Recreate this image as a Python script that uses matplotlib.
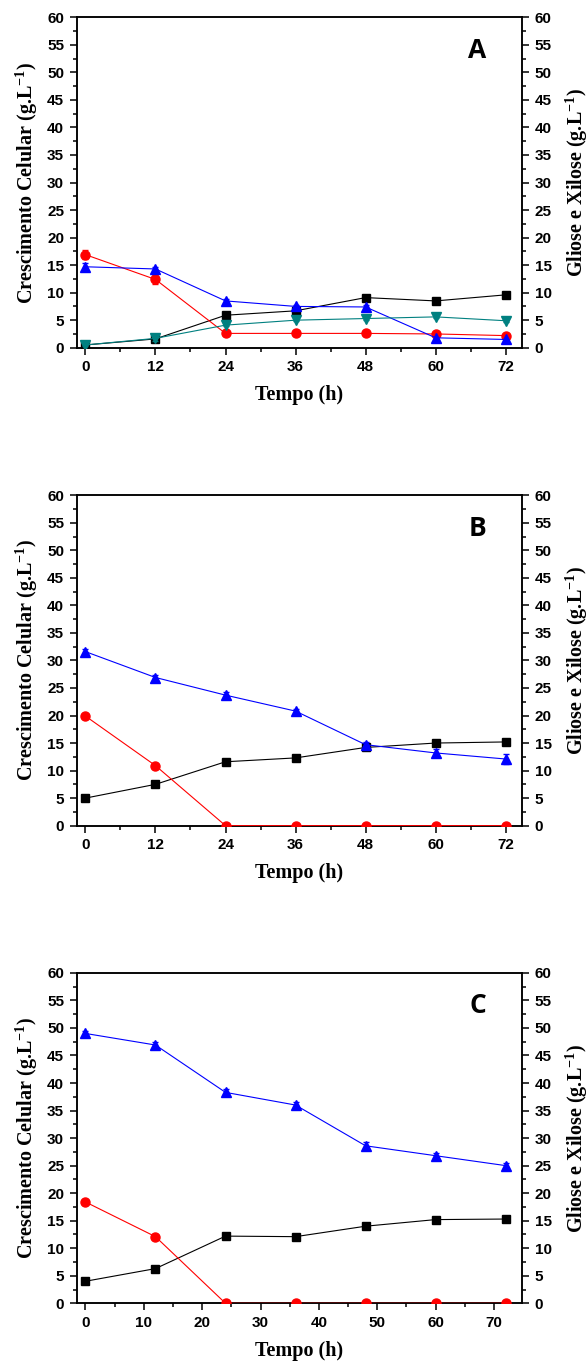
import numpy as np
import matplotlib
matplotlib.use("Agg")
import matplotlib.pyplot as plt
from matplotlib.ticker import MultipleLocator

plt.rcParams["mathtext.fontset"] = "custom"
plt.rcParams["mathtext.rm"] = "Liberation Serif:bold"
plt.rcParams["mathtext.bf"] = "Liberation Serif:bold"
plt.rcParams["mathtext.default"] = "bf"

tempo = [0, 12, 24, 36, 48, 60, 72]

# A
cel_a = [0.5, 1.6, 5.9, 6.7, 9.1, 8.5, 9.6]
cel_a_err = [0.2, 0.5, 0.2, 0.2, 0.3, 0.2, 0.2]
glic_a = [16.9, 12.4, 2.6, 2.6, 2.6, 2.5, 2.2]
glic_a_err = [0.8, 0.8, 0.1, 0.1, 0.1, 0.2, 0.2]
xil_a = [14.7, 14.3, 8.5, 7.5, 7.4, 1.8, 1.5]
xil_a_err = [0.7, 0.4, 0.4, 0.3, 0.4, 0.2, 0.2]
ara_a = [0.5, 1.7, 4.1, 5.0, 5.3, 5.6, 4.9]
ara_a_err = [0.1, 0.4, 0.2, 0.2, 0.2, 0.2, 0.2]

# B
cel_b = [5.0, 7.5, 11.6, 12.3, 14.2, 15.0, 15.2]
cel_b_err = [0.2, 0.2, 0.2, 0.2, 0.3, 0.4, 0.2]
glic_b = [19.9, 10.9, 0, 0, 0, 0, 0]
glic_b_err = [0.3, 0.3, 0, 0, 0, 0, 0]
xil_b = [31.6, 26.9, 23.7, 20.8, 14.7, 13.2, 12.1]
xil_b_err = [0.5, 0.4, 0.5, 0.4, 0.5, 0.7, 0.9]

# C
cel_c = [4.0, 6.3, 12.2, 12.1, 14.0, 15.2, 15.3]
cel_c_err = [0.2, 0.2, 0.2, 0.2, 0.2, 0.2, 0.2]
glic_c = [18.4, 12.1, 0, 0, 0, 0, 0]
glic_c_err = [0.3, 0.3, 0, 0, 0, 0, 0]
xil_c = [49.0, 46.9, 38.3, 36.0, 28.6, 26.8, 25.0]
xil_c_err = [0.5, 0.5, 0.6, 0.6, 0.6, 0.5, 0.5]

paineis = [
    ("A", cel_a, cel_a_err, glic_a, glic_a_err, xil_a, xil_a_err, ara_a, ara_a_err, 12),
    ("B", cel_b, cel_b_err, glic_b, glic_b_err, xil_b, xil_b_err, None, None, 12),
    ("C", cel_c, cel_c_err, glic_c, glic_c_err, xil_c, xil_c_err, None, None, 10),
]

fig = plt.figure(figsize=(5.88, 13.62), dpi=100)
bottoms = [0.7447, 0.3938, 0.0431]

tick_font = {"family": "Liberation Sans", "weight": "bold", "size": 11}
label_font = {"family": "Liberation Serif", "weight": "bold", "size": 14.5}

for (letra, cel, cel_err, glic, glic_err, xil, xil_err, ara, ara_err, passo), b in zip(paineis, bottoms):
    ax = fig.add_axes([0.1304, b, 0.7574, 0.2426])
    ax2 = ax.twinx()

    kw = dict(lw=0.8, capsize=2, elinewidth=0.8, clip_on=True, zorder=3)
    ax.errorbar(tempo, cel, yerr=cel_err, color="black", marker="s", ms=5.5, **kw)
    ax2.errorbar(tempo, glic, yerr=glic_err, color="red", marker="o", ms=6.5, **kw)
    ax2.errorbar(tempo, xil, yerr=xil_err, color="blue", marker="^", ms=6.5, **kw)
    if ara is not None:
        ax2.errorbar(tempo, ara, yerr=ara_err, color="#008080", marker="v", ms=6.5, **kw)

    for a in (ax, ax2):
        a.set_xlim(-1.5, 74.8)
        a.set_ylim(0, 60)
        a.yaxis.set_major_locator(MultipleLocator(5))
        a.yaxis.set_minor_locator(MultipleLocator(2.5))
        for s in a.spines.values():
            s.set_linewidth(1.1)

    ax.xaxis.set_major_locator(MultipleLocator(passo))
    ax.xaxis.set_minor_locator(MultipleLocator(passo / 2))
    ax.tick_params(axis="both", which="major", direction="out", length=5, width=1.1, pad=4)
    ax.tick_params(axis="both", which="minor", direction="out", length=3, width=1.1)
    ax2.tick_params(axis="y", which="major", direction="out", length=5, width=1.1, pad=4)
    ax2.tick_params(axis="y", which="minor", direction="out", length=3, width=1.1)

    for lab in ax.get_xticklabels() + ax.get_yticklabels() + ax2.get_yticklabels():
        lab.set_fontproperties(tick_font)

    ax.set_xlabel("Tempo (h)", fontdict=label_font, labelpad=8)
    ax.set_ylabel("Crescimento Celular (g.L$^{-1}$)", fontdict=label_font, labelpad=5)
    ax2.set_ylabel("Gliose e Xilose (g.L$^{-1}$)", fontdict=label_font, labelpad=9)

    ax.text(0.9, 0.9, letra, transform=ax.transAxes, ha="center", va="center",
            fontsize=19, fontweight="bold", family="Open Sans")

fig.savefig("out.png", dpi=100)
